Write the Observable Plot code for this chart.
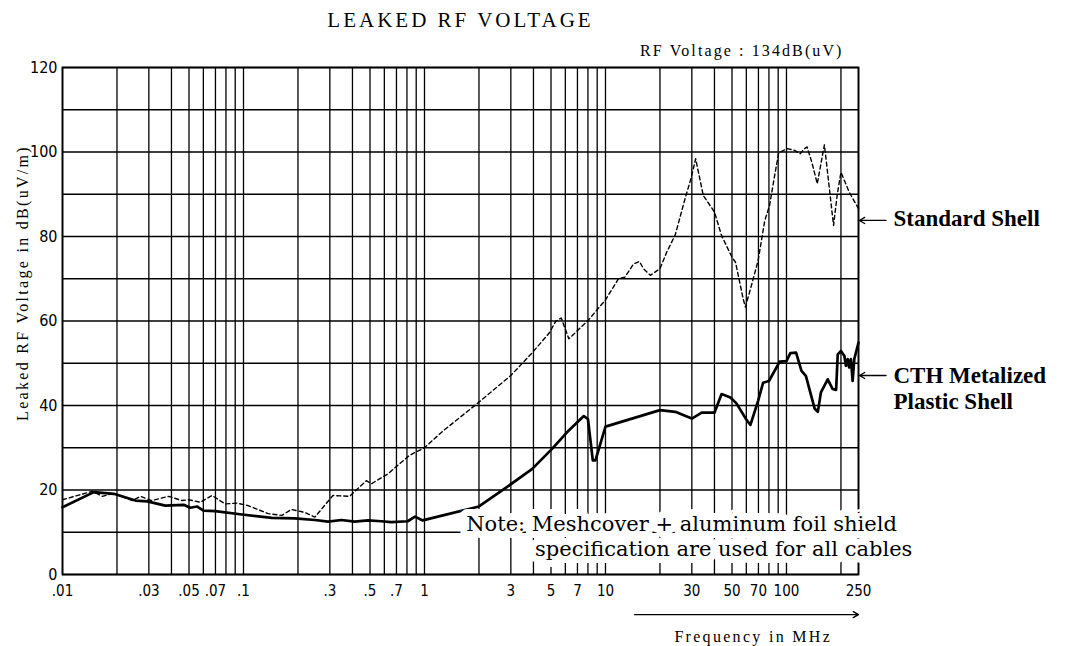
<!DOCTYPE html>
<html><head><meta charset="utf-8">
<script src="https://cdn.jsdelivr.net/npm/d3@7"></script>
<script src="https://cdn.jsdelivr.net/npm/@observablehq/plot@0.6"></script>
<style>
html,body{margin:0;padding:0;background:#fff;}
#chart svg{display:block;}
</style></head><body><div id="chart"></div>
<script>
// ---- Standard Shell (dashed) ----
const stdFreq = [0.01,0.0146,0.0166,0.0192,0.0243,0.027,0.031,0.0386,0.0457,0.0497,0.0576,0.0669,0.0792,0.0916,0.106,0.137,0.163,0.184,0.218,0.248,0.312,0.386,0.477,0.51,0.627,0.826,1.0,1.26,2,3,3.94,4.9,5.3,5.7,6.27,6.8,8.0,10,11.8,12.8,14.3,15.4,16.2,17.7,20,21.8,24.3,27.5,29.7,31.5,34.7,40,43.8,50,52.3,57.6,59.3,64,69.7,75.9,80.6,86,90.6,101,111,119,126,130,138,148,162,171,182,191,200,222,250];
const stdLevel = [17.7,19.7,18.5,19.2,17.5,18.5,17.5,18.5,17.5,17.7,17.1,18.7,16.7,16.9,16.3,14.4,14.0,15.4,14.7,13.6,18.7,18.5,22.2,21.5,23.8,28.2,30.0,33.9,40.8,47.1,52.5,57.2,59.9,60.7,55.8,57.2,60.1,65.0,70.0,70.4,73.5,74.1,72.4,70.8,72.4,76.3,80.4,88.9,93.8,98.4,89.7,85.8,80.2,75.1,73.9,65.3,63.3,68.4,74.3,83.8,87.3,94.4,99.8,100.8,100.4,99.6,100.8,101.2,97.6,92.5,101.7,92.9,82.6,90.1,95.2,90.5,86.6];

// ---- CTH Metalized Plastic Shell (solid) ----
const cthFreq = [0.01,0.0149,0.0192,0.0253,0.0294,0.037,0.0467,0.0508,0.0553,0.0601,0.0698,0.098,0.143,0.192,0.248,0.293,0.348,0.411,0.487,0.577,0.654,0.808,0.887,0.977,2,2.81,3.94,5.08,6.27,7.59,8.0,8.51,8.8,10,20,24.3,30,34,40,43.8,49,52.9,60,63.2,69.7,74.3,80,91.8,100,105,113,121,128,143,149,155,169,180,188,192,200,209,213,218,222,227,232,237,250];
const cthLevel = [15.9,19.5,19.1,17.5,17.3,16.3,16.5,15.8,16.1,15.1,15.0,14.2,13.4,13.3,12.9,12.5,12.9,12.5,12.8,12.6,12.4,12.6,13.7,12.8,16.1,20.5,25.0,29.8,34.1,37.5,36.8,27.0,27.0,35.0,38.9,38.5,36.9,38.3,38.3,42.7,41.9,40.5,36.7,35.4,41.1,45.4,45.8,50.4,50.5,52.4,52.5,48.2,47.0,39.3,38.5,43.1,46.2,43.9,43.7,52.1,52.9,51.7,49.4,51.0,49.0,51.0,45.8,51.0,54.9];

// ---- Axes ----
const xTickValues = [0.01,0.03,0.05,0.07,0.1,0.3,0.5,0.7,1,3,5,7,10,30,50,70,100,250];
const xTickLabels = [".01",".03",".05",".07",".1",".3",".5",".7","1","3","5","7","10","30","50","70","100","250"];
const xGridValues = [0.01,0.02,0.03,0.04,0.05,0.06,0.07,0.08,0.09,0.1,0.2,0.3,0.4,0.5,0.6,0.7,0.8,0.9,1,2,3,4,5,6,7,8,9,10,20,30,40,50,60,70,80,90,100,200,250];
const yTickValues = [0,20,40,60,80,100,120];
const yGridValues = [0,10,20,30,40,50,60,70,80,90,100,110,120];

// ---- Texts ----
const titleText = "LEAKED RF VOLTAGE";
const subtitleText = "RF Voltage : 134dB(uV)";
const yLabelText = "Leaked RF Voltage in dB(uV/m)";
const xLabelText = "Frequency in MHz";
const seriesNames = ["Standard Shell", "CTH Metalized", "Plastic Shell"];
const noteLines = ["Note: Meshcover + aluminum foil shield", "specification are used for all cables"];

const standard = stdFreq.map((f, i) => ({freq: f, level: stdLevel[i]}));
const cth = cthFreq.map((f, i) => ({freq: f, level: cthLevel[i]}));
const xTicks = xTickValues.map((v, i) => ({value: v, label: xTickLabels[i]}));

const serif = "'Liberation Serif', 'DejaVu Serif', serif";
const wideSerif = "'DejaVu Serif', serif";
const narrow = "'Liberation Sans Narrow', 'DejaVu Sans Condensed', sans-serif";

const chart = Plot.plot({
  width: 1066, height: 646,
  marginLeft: 62, marginRight: 208, marginTop: 67, marginBottom: 72,
  style: {fontFamily: serif, background: "#fff", color: "#000", overflow: "visible"},
  x: {type: "log", domain: [0.01, 250], axis: null},
  y: {domain: [0, 120], axis: null},
  marks: [
    Plot.gridX(xGridValues, {stroke: "#000", strokeOpacity: 1, strokeWidth: 1.3}),
    Plot.gridY(yGridValues, {stroke: "#000", strokeOpacity: 1, strokeWidth: 1.4}),
    Plot.frame({stroke: "#000", strokeWidth: 1.8}),
    // x tick labels
    Plot.text(xTicks, {x: "value", frameAnchor: "bottom", dy: 17, text: "label", fontSize: 15, fontFamily: narrow, lineAnchor: "middle"}),
    // y tick labels
    Plot.axisY(yTickValues, {tickSize: 0, tickPadding: 5, fontSize: 16, fontFamily: narrow, label: null}),
    Plot.line(standard, {x: "freq", y: "level", stroke: "#000", strokeWidth: 1.4, strokeDasharray: "4,3"}),
    Plot.line(cth, {x: "freq", y: "level", stroke: "#000", strokeWidth: 2.7, strokeLinejoin: "round"}),
    // note with white halo over the grid
    Plot.text([noteLines[0]], {x: 1.70, y: 11.8, text: d => d, textAnchor: "start", fontSize: 21, fontFamily: wideSerif, stroke: "#fff", strokeWidth: 14, fill: "#000"}),
    Plot.text([noteLines[1]], {x: 4.08, y: 5.9, text: d => d, textAnchor: "start", fontSize: 21, fontFamily: wideSerif, stroke: "#fff", strokeWidth: 14, fill: "#000"}),
    // series labels at right
    Plot.arrow([seriesNames[0], seriesNames[1]], {x1: 355, x2: 253, y1: (d, i) => [83.8, 47.1][i], y2: (d, i) => [83.8, 47.1][i], stroke: "#000", strokeWidth: 1.3, headLength: 7}),
    Plot.text([seriesNames[0]], {x: 390, y: 84.2, text: d => d, textAnchor: "start", fontSize: 23, fontWeight: "bold", fontFamily: serif}),
    Plot.text([seriesNames[1]], {x: 390, y: 47.1, text: d => d, textAnchor: "start", fontSize: 23, fontWeight: "bold", fontFamily: serif}),
    Plot.text([seriesNames[2]], {x: 390, y: 41.0, text: d => d, textAnchor: "start", fontSize: 23, fontWeight: "bold", fontFamily: serif}),
    // title & subtitle
    Plot.text([titleText], {frameAnchor: "top", dy: -47, lineAnchor: "middle", text: d => d, fontSize: 21, fontFamily: serif}),
    Plot.text([subtitleText], {frameAnchor: "top-right", dy: -17, dx: -15, lineAnchor: "middle", textAnchor: "end", text: d => d, fontSize: 16, fontFamily: serif}),
    // y label
    Plot.text([yLabelText], {frameAnchor: "left", dx: -40, dy: -38, rotate: -90, textAnchor: "middle", lineAnchor: "middle", text: d => d, fontSize: 16, fontFamily: serif}),
    // frequency arrow & label
    Plot.arrow([xLabelText], {x1: 14.5, x2: 250, y1: -9.5, y2: -9.5, stroke: "#000", strokeWidth: 1.3, headLength: 7}),
    Plot.text([xLabelText], {x: 65.5, y: -14.7, text: d => d, fontSize: 16, fontFamily: serif})
  ]
});

// letter spacing for spaced typewriter-like labels
d3.select(chart).selectAll("text").each(function() {
  const t = this.textContent;
  if (t === titleText) this.setAttribute("letter-spacing", "3");
  if (t === subtitleText) this.setAttribute("letter-spacing", "2.1");
  if (t === yLabelText) this.setAttribute("letter-spacing", "2.3");
  if (t === xLabelText) this.setAttribute("letter-spacing", "2.3");
});

document.getElementById("chart").append(chart);
</script>
</body></html>
